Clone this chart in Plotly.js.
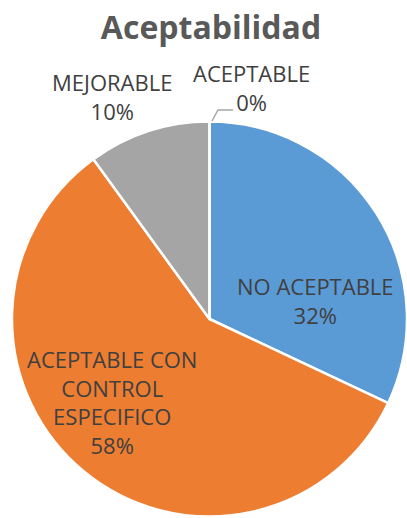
<!DOCTYPE html>
<html>
<head>
<meta charset="utf-8">
<script src="https://cdn.plot.ly/plotly-3.0.1.min.js"></script>
<style>html,body{margin:0;padding:0;background:#fff;}#chart{width:407px;height:518px;}</style>
</head>
<body>
<div id="chart"></div>
<script>
const labels = ["NO ACEPTABLE", "ACEPTABLE CON CONTROL ESPECIFICO", "MEJORABLE", "ACEPTABLE"];
const displayLabels = ["NO ACEPTABLE", "ACEPTABLE CON<br>CONTROL<br>ESPECIFICO", "MEJORABLE", "ACEPTABLE"];
const values = [32, 58, 10, 0];
const colors = ["#5B9BD5", "#ED7D31", "#A5A5A5", "#FFC000"];

const W = 407, H = 518;
const total = values.reduce((a, b) => a + b, 0);
const pct = values.map(v => Math.round(v / total * 100) + "%");

// label placement (pixels from top-left)
const labelPos = [[315, 300], [112, 402], [112, 97], [251, 87]];

const annotations = labels.map((l, i) => ({
  text: displayLabels[i] + "<br>" + pct[i],
  x: labelPos[i][0] / W, y: 1 - labelPos[i][1] / H,
  xref: "paper", yref: "paper", showarrow: false,
  xanchor: "center", yanchor: "middle",
  font: {family: "Open Sans", size: 22, color: "#404040"}
}));

const data = [{
  type: "pie",
  labels: labels,
  values: values,
  sort: false,
  direction: "clockwise",
  rotation: 0,
  textinfo: "none",
  hoverinfo: "label+percent",
  marker: {colors: colors, line: {color: "#ffffff", width: 2.5}},
  domain: {x: [12 / W, 408 / W], y: [1 / H, 397 / H]},
  showlegend: false
}];

const layout = {
  width: W, height: H,
  margin: {l: 0, r: 0, t: 0, b: 0},
  paper_bgcolor: "#ffffff",
  title: {
    text: "<b>Aceptabilidad</b>",
    x: 211 / W, xanchor: "center", xref: "paper",
    y: 1 - 28 / H, yanchor: "middle", yref: "paper",
    font: {family: "Open Sans", size: 32, color: "#595959"}
  },
  annotations: annotations,
  shapes: [{
    type: "path", xref: "paper", yref: "paper",
    path: `M ${212 / W} ${1 - 121 / H} L ${218 / W} ${1 - 110 / H} L ${233 / W} ${1 - 110 / H}`,
    line: {color: "#A6A6A6", width: 1.5}
  }],
  showlegend: false
};

Plotly.newPlot("chart", data, layout, {displayModeBar: false, staticPlot: true});
</script>
</body>
</html>
